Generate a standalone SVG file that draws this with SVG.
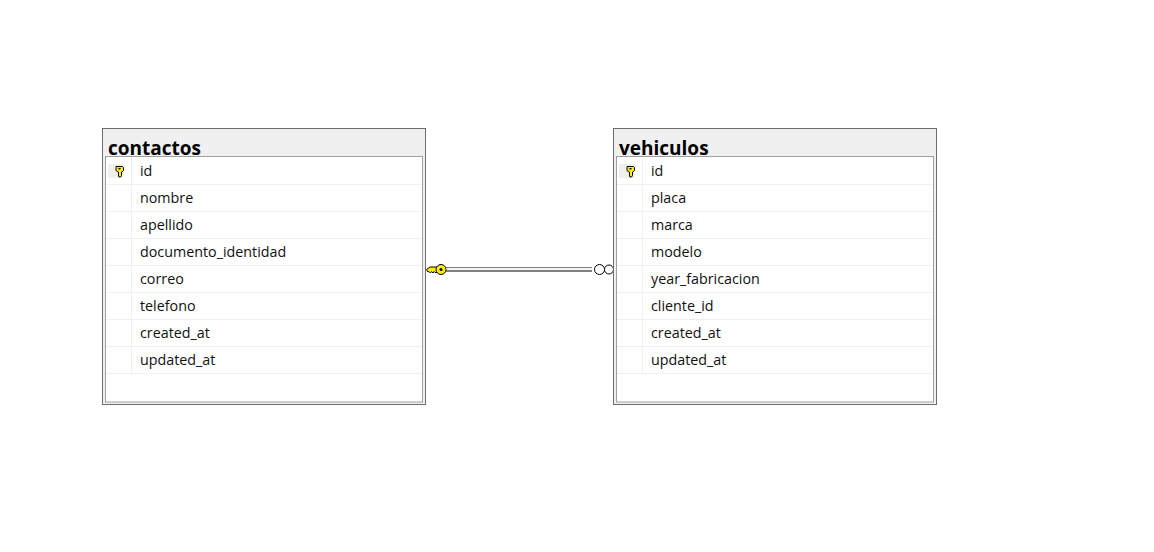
<svg xmlns="http://www.w3.org/2000/svg" width="1154" height="552" viewBox="0 0 1154 552">
<style>
.frame{fill:#f0f0f0;stroke:#6d6d6d;stroke-width:1}
.inner{fill:#fff;stroke:#a0a0a0;stroke-width:1}
.rule{stroke:#f0f0f0;stroke-width:1;fill:none}
.keybg{fill:#f0f0f0}
.title{font-family:"Open Sans","Noto Sans","Liberation Sans",sans-serif;font-size:19px;font-weight:700;fill:#000}
.col{font-family:"Open Sans","Noto Sans","Liberation Sans",sans-serif;font-size:14.3px;fill:#111}
.key{fill:#ffee00;stroke:#000;stroke-width:1}
</style>
<defs>
<g id="smallkey">
<path class="key" d="M-3.500 -4.500h6.500l1 1v3l-1.500 1.500h-0.500v3.500l-1 1.500h-1.500l-0.500-1v-4h-0.500l-2-1.500v-3z"/>
<rect x="-1" y="-3" width="2" height="1.500" fill="#000"/>
</g>
</defs>
<g id="connectors">
<path d="M446 269.500H592" fill="none" stroke="#808080" stroke-width="5"/>
<path d="M446 269H592" fill="none" stroke="#f4f4f4" stroke-width="2"/>
<g id="pk-end">
<path class="key" d="M426.500 269.500l3.500-2.500h7v5.500h-2l-1-1-1 1.500-1.500-1.500-1 1.500-1.500-1.500-1 .5z"/>
<circle class="key" cx="441" cy="269.500" r="5"/>
<circle cx="441" cy="269.500" r="1.500" fill="#000"/>
</g>
<g id="fk-end" fill="#fff" stroke="#000" stroke-width="1">
<circle cx="599.500" cy="269.500" r="5"/>
<circle cx="609" cy="269.500" r="4.500"/>
</g>
</g>
<g id="contactos">
<rect class="frame" x="102.500" y="128.500" width="323" height="276"/>
<text class="title" x="108" y="155">contactos</text>
<rect class="inner" x="105.500" y="156.500" width="317" height="245.500"/>
<path class="rule" d="M106 184.500H422M106 211.500H422M106 238.500H422M106 265.500H422M106 292.500H422M106 319.500H422M106 346.500H422M106 373.500H422M131.500 157V373"/>
<rect class="keybg" x="108" y="164" width="15" height="14"/>
<use href="#smallkey" x="119.500" y="171"/>
<text class="col" x="140" y="176">id</text>
<text class="col" x="140" y="203">nombre</text>
<text class="col" x="140" y="230">apellido</text>
<text class="col" x="140" y="257">documento_identidad</text>
<text class="col" x="140" y="284">correo</text>
<text class="col" x="140" y="311">telefono</text>
<text class="col" x="140" y="338">created_at</text>
<text class="col" x="140" y="365">updated_at</text>
</g>
<g id="vehiculos">
<rect class="frame" x="613.500" y="128.500" width="323" height="276"/>
<text class="title" x="619" y="155">vehiculos</text>
<rect class="inner" x="616.500" y="156.500" width="317" height="245.500"/>
<path class="rule" d="M617 184.500H933M617 211.500H933M617 238.500H933M617 265.500H933M617 292.500H933M617 319.500H933M617 346.500H933M617 373.500H933M642.500 157V373"/>
<rect class="keybg" x="619" y="164" width="15" height="14"/>
<use href="#smallkey" x="630.500" y="171"/>
<text class="col" x="651" y="176">id</text>
<text class="col" x="651" y="203">placa</text>
<text class="col" x="651" y="230">marca</text>
<text class="col" x="651" y="257">modelo</text>
<text class="col" x="651" y="284">year_fabricacion</text>
<text class="col" x="651" y="311">cliente_id</text>
<text class="col" x="651" y="338">created_at</text>
<text class="col" x="651" y="365">updated_at</text>
</g>
</svg>
